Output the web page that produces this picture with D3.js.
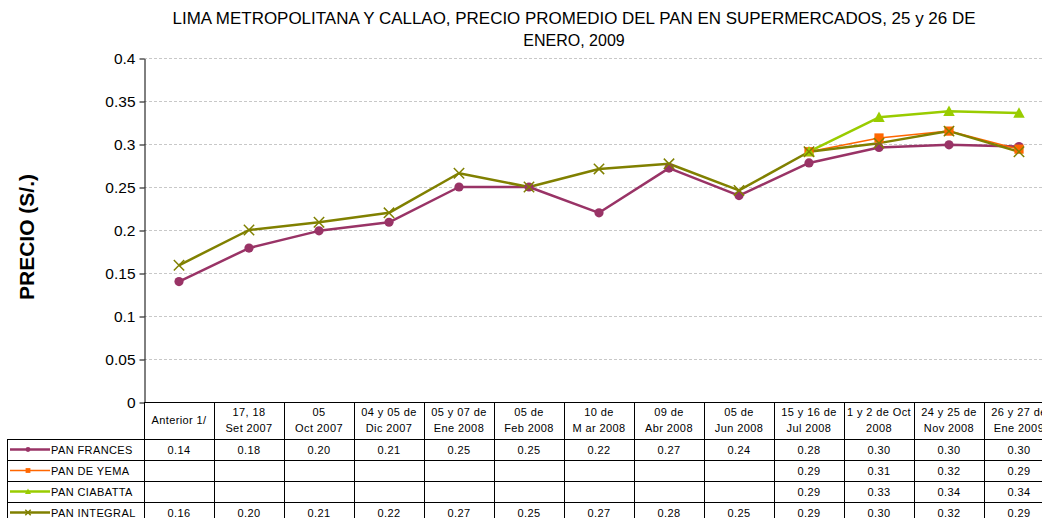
<!DOCTYPE html>
<html><head><meta charset="utf-8">
<script src="https://cdn.jsdelivr.net/npm/d3@7"></script>
<style>
body{margin:0;background:#fff;}
svg{display:block;font-family:"Liberation Sans",Arial,sans-serif;}
</style></head>
<body><svg id="c" width="1042" height="518"></svg>
<script>
const categories = [
  ["Anterior 1/"],
  ["17, 18","Set 2007"],
  ["05","Oct 2007"],
  ["04 y 05 de","Dic 2007"],
  ["05 y 07 de","Ene 2008"],
  ["05 de","Feb 2008"],
  ["10 de","M ar 2008"],
  ["09 de","Abr 2008"],
  ["05 de","Jun 2008"],
  ["15 y 16 de","Jul 2008"],
  ["1 y 2 de Oct","2008"],
  ["24 y 25 de","Nov 2008"],
  ["26 y 27 de","Ene 2009"]
];
const panFrances  = [0.14,0.179,0.199,0.209,0.25,0.25,0.22,0.272,0.24,0.278,0.296,0.299,0.297];
const panDeYema   = [null,null,null,null,null,null,null,null,null,0.291,0.307,0.315,0.294];
const panCiabatta = [null,null,null,null,null,null,null,null,null,0.291,0.331,0.338,0.336];
const panIntegral = [0.159,0.2,0.209,0.22,0.266,0.25,0.271,0.277,0.246,0.291,0.301,0.315,0.291];
const yTicks = [0,0.05,0.1,0.15,0.2,0.25,0.3,0.35,0.4];
const title = ["LIMA METROPOLITANA Y CALLAO, PRECIO PROMEDIO DEL PAN EN SUPERMERCADOS, 25 y 26  DE","ENERO, 2009"];
const yTitle = "PRECIO (S/.)";

const series = [
  {name:"PAN FRANCES", values:panFrances, color:"#993366", marker:"circle", w:2.5},
  {name:"PAN DE YEMA", values:panDeYema, color:"#FF6600", marker:"square", w:1.5},
  {name:"PAN CIABATTA", values:panCiabatta, color:"#99CC00", marker:"triangle", w:2.5},
  {name:"PAN INTEGRAL", values:panIntegral, color:"#808000", marker:"x", w:2.5}
];

const svg = d3.select("#c");
const pLeft = 144, pTop = 58, pBottom = 402, colW = 70;
const x = d3.scaleBand().domain(d3.range(categories.length)).range([pLeft, pLeft + colW*categories.length]).padding(0);
const y = d3.scaleLinear().domain([0,0.4]).range([pBottom, pTop]);

// title
svg.append("g").selectAll("text").data(title).join("text")
  .attr("x", 574).attr("y",(d,i)=>24+i*22).attr("text-anchor","middle")
  .attr("font-size",16).attr("fill","#000")
  .each(function(d,i){ if(i===0) d3.select(this).attr("textLength",803).attr("lengthAdjust","spacingAndGlyphs"); })
  .text(d=>d);

// grid
svg.append("g").selectAll("line").data(yTicks.filter(d=>d>0)).join("line")
  .attr("x1",pLeft).attr("x2",1042).attr("y1",d=>Math.round(y(d))+0.5).attr("y2",d=>Math.round(y(d))+0.5)
  .attr("stroke","#c8c8c8").attr("stroke-dasharray","3,2").attr("stroke-width",1);

// y axis
const yAxis = d3.axisLeft(y).tickValues(yTicks).tickSize(5).tickSizeOuter(0).tickFormat(d=>d3.format("")(d));
const ga = svg.append("g").attr("transform",`translate(${pLeft+0.5},0.5)`).call(yAxis);
ga.select(".domain").attr("stroke","#000");
ga.selectAll(".tick line").attr("stroke","#000");
ga.selectAll(".tick text").attr("font-size",15.5).attr("font-family","'Liberation Sans',Arial,sans-serif").attr("x",-9).attr("dy","0.35em").attr("fill","#000");

svg.append("text").attr("transform","translate(34,237) rotate(-90)").attr("text-anchor","middle")
  .attr("font-size",21).attr("font-weight","bold").text(yTitle);

// table
const rowTop = 439, rowH = 21;
const tg = svg.append("g").attr("stroke","#000").attr("stroke-width",1);
tg.append("line").attr("x1",pLeft).attr("x2",1042).attr("y1",pBottom+0.5).attr("y2",pBottom+0.5);
d3.range(5).forEach(i=>{
  tg.append("line").attr("x1",7).attr("x2",1042).attr("y1",rowTop+i*rowH+0.5).attr("y2",rowTop+i*rowH+0.5);
});
categories.forEach((c,i)=>{
  const xx = x(i)+0.5;
  tg.append("line").attr("x1",xx).attr("x2",xx).attr("y1",pBottom).attr("y2",518);
});
tg.append("line").attr("x1",7.5).attr("x2",7.5).attr("y1",rowTop).attr("y2",518);

const tt = svg.append("g").attr("font-size",11).attr("letter-spacing","0.4px").attr("fill","#000");
categories.forEach((c,i)=>{
  const cx = x(i)+colW/2;
  c.forEach((line,j)=>{
    tt.append("text").attr("x",cx).attr("text-anchor","middle")
      .attr("y", c.length===1 ? 424 : 416 + j*16).text(line);
  });
});
const fmt = d3.format(".2f");
function drawMarker(g, s, cx, cy, k){
  if(s.marker==="circle"){
    g.append("circle").attr("cx",cx).attr("cy",cy).attr("r",4*k).attr("fill",s.color);
  } else if(s.marker==="square"){
    const h=4*k; g.append("rect").attr("x",cx-h).attr("y",cy-h).attr("width",2*h).attr("height",2*h).attr("fill",s.color);
  } else if(s.marker==="triangle"){
    const h=5*k; g.append("path").attr("d",`M${cx},${cy-h}L${cx+h},${cy+h*0.8}L${cx-h},${cy+h*0.8}Z`).attr("fill",s.color);
  } else {
    const h=4.5*k; g.append("path").attr("d",`M${cx-h},${cy-h}L${cx+h},${cy+h}M${cx-h},${cy+h}L${cx+h},${cy-h}`).attr("stroke",s.color).attr("stroke-width",1.5).attr("fill","none");
  }
}
series.forEach((s,si)=>{
  const ry = rowTop + si*rowH + rowH/2 + 4;
  s.values.forEach((v,i)=>{
    if(v==null) return;
    tt.append("text").attr("x",x(i)+colW/2).attr("y",ry).attr("text-anchor","middle").text(fmt(v));
  });
  tt.append("text").attr("x",51).attr("y",ry).text(s.name);
  const ly = rowTop + si*rowH + rowH/2;
  svg.append("line").attr("x1",10).attr("x2",50).attr("y1",ly).attr("y2",ly).attr("stroke",s.color).attr("stroke-width",s.w);
  drawMarker(svg, s, 28, ly, 0.6);
});

// lines
const line = d3.line().defined(d=>d.v!=null).x(d=>x(d.i)+colW/2).y(d=>y(d.v));
const plotG = svg.append("g");
series.forEach(s=>{
  const pts = s.values.map((v,i)=>({v,i}));
  plotG.append("path").datum(pts).attr("d",line).attr("fill","none").attr("stroke",s.color).attr("stroke-width",s.w).attr("stroke-linejoin","round");
});
series.forEach(s=>{
  s.values.forEach((v,i)=>{ if(v!=null) drawMarker(plotG, s, x(i)+colW/2, y(v), 1.15); });
});
</script></body></html>
